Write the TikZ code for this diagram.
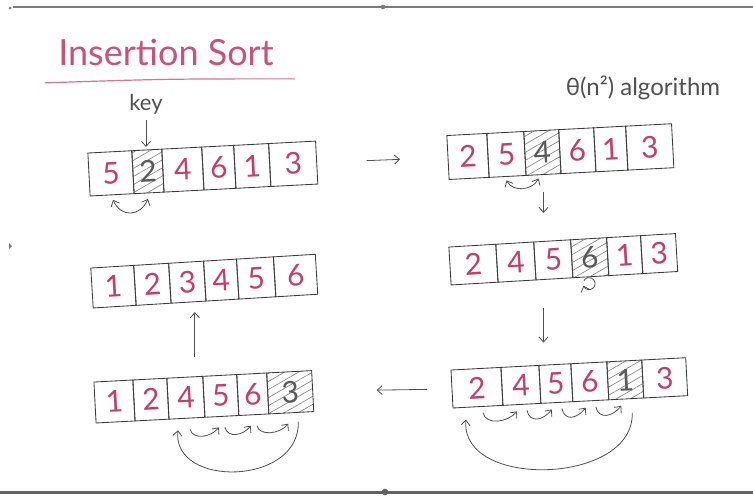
\documentclass[tikz,border=0pt]{standalone}
\usepackage{fontspec}
\setmainfont{Lato}
\usetikzlibrary{arrows.meta,patterns.meta,calc}
\definecolor{ink}{HTML}{3C3C3C}
\definecolor{digit}{HTML}{C0406A}
\definecolor{titlecol}{HTML}{C8527C}
\definecolor{framecol}{HTML}{7A7A7A}
\tikzset{
  cell/.style={draw=ink, line width=0.85pt, inner sep=0pt, outer sep=0pt,
    text=digit, font=\fontsize{30}{30}\selectfont},
  num/.style={},
  hatch/.style={pattern={Lines[angle=30,distance=7pt,line width=0.7pt]},
    pattern color=gray!90, text=ink!85},
  conn/.style={draw=ink!90, line width=0.8pt, -{Straight Barb[length=5pt,width=9pt]}},
  swap/.style={draw=ink!90, line width=0.8pt,
    {Straight Barb[length=5pt,width=9pt]}-{Straight Barb[length=5pt,width=9pt]}},
}
% #1 name, #2 origin, #3 angle, #4 height, #5 list width/label/style
\newcommand{\sortarray}[5]{%
  \begin{scope}[shift={#2}, rotate=#3, transform shape]
    \node[inner sep=0pt, outer sep=0pt, minimum size=0pt] (#1c0) at (0,0) {};
    \foreach \w/\v/\s [count=\i, evaluate=\i as \j using int(\i-1)] in {#5} {
      \node[cell, \s, minimum width=\w pt, minimum height=#4 pt, anchor=west]
        (#1c\i) at (#1c\j.east) {\v};
    }
  \end{scope}}
\begin{document}
\begin{tikzpicture}[x=1pt, y=-1pt]
  \useasboundingbox (0,0) rectangle (753,496);
  \fill[white] (0,0) rectangle (753,496);
  % frame
  \draw[framecol, line width=1.3pt] (13,7) -- (753,7);
  \fill[framecol] (10,8) circle (1.5pt);
  \fill[framecol] (383,7) circle (2.3pt);
  \draw[framecol!80!black, line width=3pt] (0,492) -- (753,492);
  \fill[framecol!80!black] (385,492) circle (3.3pt);
  \fill[framecol] (9,243) -- (12,246) -- (9,249) -- cycle;

  % title
  \node[text=titlecol, font=\fontsize{36}{36}\selectfont] (title) at (166,52) {Insertion Sort};
  \draw[titlecol!80, line width=1.2pt] ($(title.south west)+(-10,14)$)
    .. controls ($(title.south)+(0,10)$) .. ($(title.south east)+(18,10)$);
  \node[text=ink!90, font=\fontsize{24}{24}\selectfont] (theta) at (643,88) {θ(n²) algorithm};
  \node[text=ink!90, font=\fontsize{22}{22}\selectfont] (key) at (146,104) {key};

  % arrays
  \sortarray{a}{(89,174.5)}{3}{43}{44/5/num, 30/2/hatch, 40/4/num, 32/6/num, 35/1/num, 47/3/num}
  \sortarray{b}{(448,157.5)}{3}{44}{40/2/num, 37/5/num, 35/4/hatch, 35/6/num, 32/1/num, 46/3/num}
  \sortarray{c}{(450,266)}{3.4}{38}{47/2/num, 38/4/num, 37/5/num, 36/6/hatch, 34/1/num, 35/3/num}
  \sortarray{d}{(452,389)}{3}{38}{50/2/num, 38/4/num, 32/5/num, 36/6/num, 35/1/hatch, 44/3/num}
  \sortarray{e}{(95,402.5)}{3}{41}{39/1/num, 34/2/num, 36/4/num, 34/5/num, 30/6/num, 45/3/hatch}
  \sortarray{f}{(92,288)}{3.5}{40}{43/1/num, 35/2/num, 35/3/num, 33/4/num, 37/5/num, 42/6/num}

  % key arrow
  \draw[conn, shorten <=2pt, shorten >=3pt] (key.south) -- (key.south |- ac2.north);

  % flow arrows
  \draw[conn, shorten <=50pt, shorten >=48pt] (ac6.east) -- (bc1.west);
  \draw[conn, shorten <=17pt, shorten >=28pt] (bc3.south) -- (bc3.south |- cc3.north);
  \draw[conn, shorten <=29pt, shorten >=22pt] (bc3.south |- cc3.south) -- (bc3.south |- dc3.north);
  \draw[conn, shorten <=25pt, shorten >=64pt] (dc1.west) -- (ec6.east);
  \draw[conn, shorten <=20pt, shorten >=10pt] ([xshift=10pt]ec3.north) -- ([xshift=10pt]ec3.north |- fc3.south);

  % swaps
  \draw[swap] ($(ac1.south)+(1,5)$) .. controls +(8,18) and +(-8,18) .. ($(ac2.south)+(-1,6)$);
  \draw[swap] ($(bc2.south)+(-1,4)$) .. controls +(6,12) and +(-6,12) .. ($(bc3.south)+(-5,4)$);
  \draw[conn] ($(cc4.south)+(-7,4)$) arc[start angle=150, end angle=-160, radius=6pt];

  % array d shifts
  \foreach \p/\q in {1/2,2/3,3/4,4/5} {
    \draw[conn] ($(dc\p.south)+(5,6)$) .. controls +(3,13) and +(-9,11) .. ($(dc\q.south)+(-5,7)$);
  }
  \draw[conn] ($(dc5.south)+(6,14)$) .. controls +(2,72) and +(-6,70) .. ($(dc1.south)+(-12,13)$);

  % array e shifts
  \foreach \p/\q in {3/4,4/5,5/6} {
    \draw[conn] ($(ec\p.south)+(3,11)$) .. controls +(3,11) and +(-8,10) .. ($(ec\q.south)+(-3,11)$);
  }
  \draw[conn] ($(ec6.south)+(7,9)$) .. controls +(2,64) and +(-6,58) .. ($(ec3.south)+(-9,12)$);
\end{tikzpicture}
\end{document}
